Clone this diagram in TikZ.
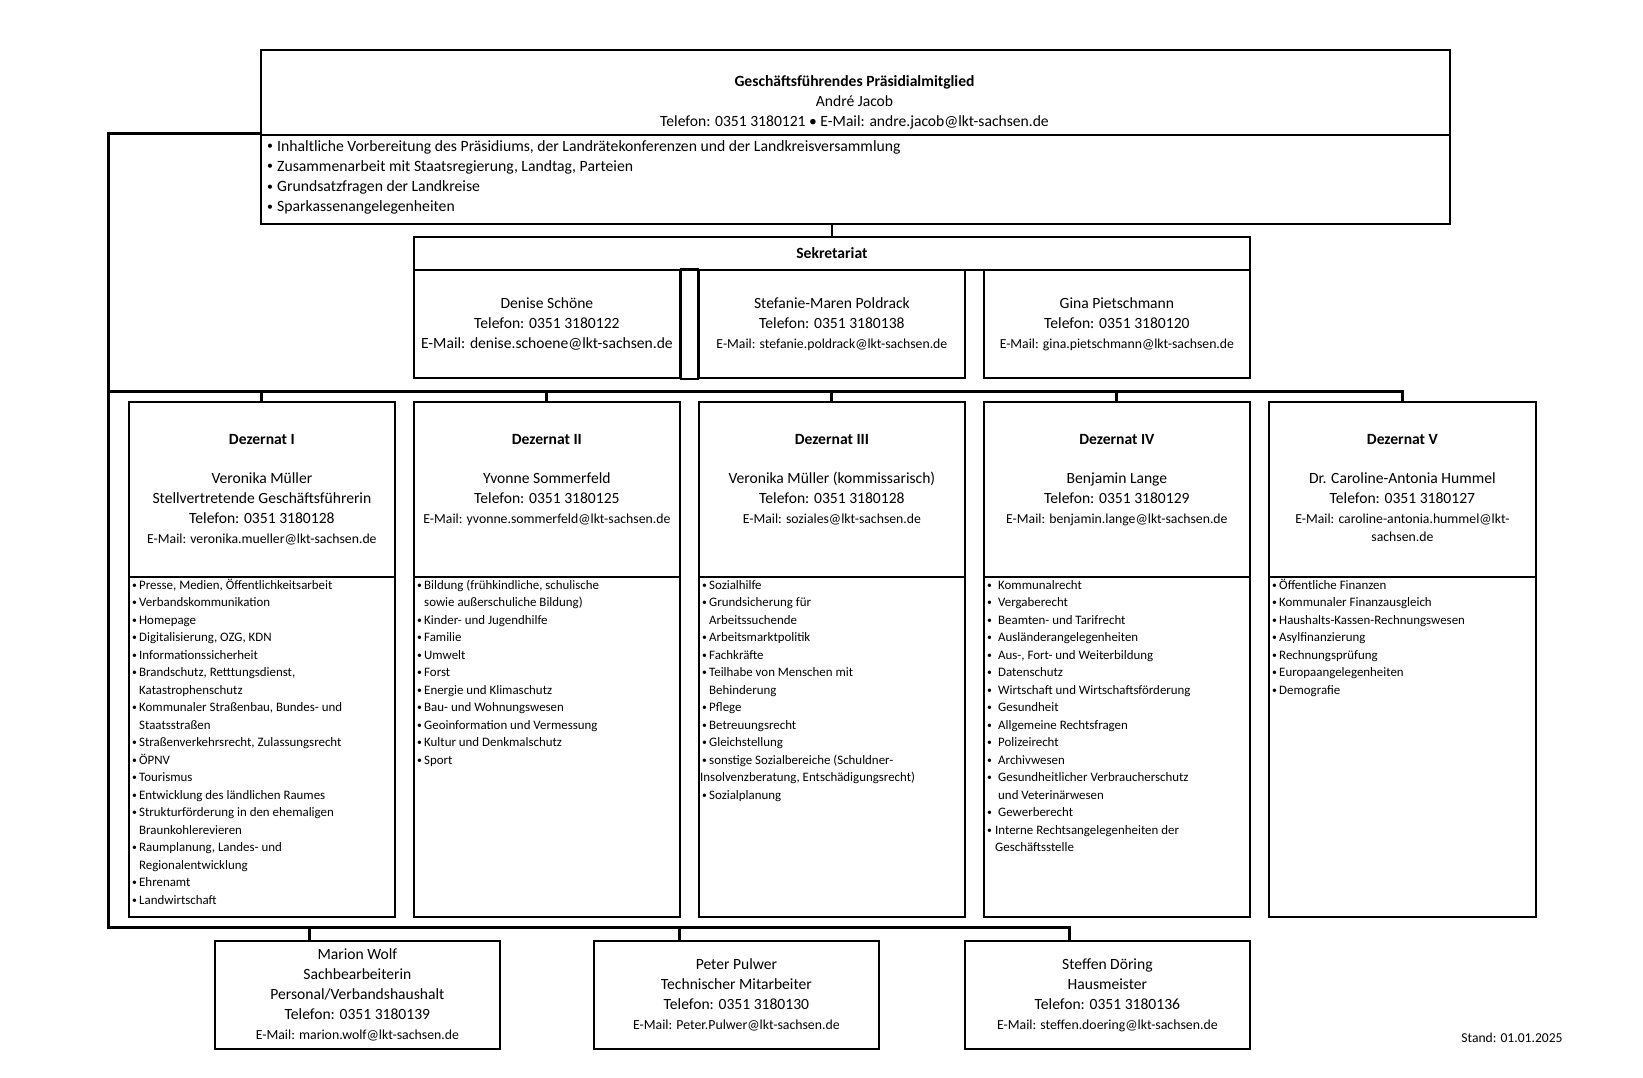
\documentclass[tikz,border=0pt]{standalone}
\usepackage{fontspec}
\usepackage{graphicx}
\setmainfont{Carlito}
\newcommand{\pkt}[1][7pt]{\makebox[#1][l]{\raisebox{0.1em}{\scalebox{0.75}{\textbullet}}}}
\newcommand{\weiter}[1][7pt]{\hspace*{#1}}

\begin{document}
\begin{tikzpicture}[x=1pt,y=-1pt,
    kasten/.style={draw,line width=1.8pt,inner sep=0pt,anchor=north west},
    verb/.style={line width=3pt},
    txt/.style={align=center,font=\fontsize{15.6}{20}\selectfont,inner sep=0pt},
    liste/.style={align=left,anchor=north west,inner sep=0pt,font=\fontsize{12.9}{17.5}\selectfont}]
    \useasboundingbox (0,0) rectangle (1643,1078);
    \node[kasten,line width=2.4pt,minimum width=1189pt,minimum height=85pt] (gfkopf) at (260,49) {};
    \node[kasten,line width=2.4pt,minimum width=1189pt,minimum height=89pt] (gfliste) at (260,134) {};
    \node[txt] (gftext) at (854.5,102.6) {\textbf{Geschäftsführendes Präsidialmitglied}\\André Jacob\\Telefon: 0351 3180121 \textbullet{}\ E-Mail: andre.jacob@lkt-sachsen.de};
    \node[liste,font=\fontsize{15.7}{20.2}\selectfont] (gfpunkte) at (267,137) {\strut\pkt[10pt]Inhaltliche Vorbereitung des Präsidiums, der Landrätekonferenzen und der Landkreisversammlung\\
    \pkt[10pt]Zusammenarbeit mit Staatsregierung, Landtag, Parteien\\
    \pkt[10pt]Grundsatzfragen der Landkreise\\
    \pkt[10pt]Sparkassenangelegenheiten};%
    \node[kasten,minimum width=836pt,minimum height=33pt] (sekkopf) at (413,236) {};
    \node[txt] (sektitel) at (sekkopf.center) {\textbf{Sekretariat}};
    \node[kasten,minimum width=266pt,minimum height=108pt] (sek1) at (413,269) {};
    \node[kasten,minimum width=266pt,minimum height=108pt] (sek2) at (698,269) {};
    \node[kasten,minimum width=266pt,minimum height=108pt] (sek3) at (983,269) {};
    \draw[line width=1.8pt] (sek1.north east) rectangle (sek2.south west);
    \node[txt] (sek1text) at (sek1.center) {Denise Schöne\\Telefon: 0351 3180122\\E-Mail: denise.schoene@lkt-sachsen.de};
    \node[txt] (sek2text) at (sek2.center) {Stefanie-Maren Poldrack\\Telefon: 0351 3180138\\{\fontsize{13.75}{20}\selectfont E-Mail: stefanie.poldrack@lkt-sachsen.de}};
    \node[txt] (sek3text) at (sek3.center) {Gina Pietschmann\\Telefon: 0351 3180120\\{\fontsize{13.75}{20}\selectfont E-Mail: gina.pietschmann@lkt-sachsen.de}};%
    \node[kasten,minimum width=266pt,minimum height=175pt] (dez1kopf) at (128,401) {};
    \node[kasten,minimum width=266pt,minimum height=175pt] (dez2kopf) at (413,401) {};
    \node[kasten,minimum width=266pt,minimum height=175pt] (dez3kopf) at (698,401) {};
    \node[kasten,minimum width=266pt,minimum height=175pt] (dez4kopf) at (983,401) {};
    \node[kasten,minimum width=267pt,minimum height=175pt] (dez5kopf) at (1268,401) {};
    \node[kasten,minimum width=266pt,minimum height=340pt] (dez1liste) at (128,576) {};
    \node[kasten,minimum width=266pt,minimum height=340pt] (dez2liste) at (413,576) {};
    \node[kasten,minimum width=266pt,minimum height=340pt] (dez3liste) at (698,576) {};
    \node[kasten,minimum width=266pt,minimum height=340pt] (dez4liste) at (983,576) {};
    \node[kasten,minimum width=267pt,minimum height=340pt] (dez5liste) at (1268,576) {};%
    \node[txt,anchor=north] (dez1text) at (dez1kopf.north |- 0,430.5) {\strut\textbf{Dezernat I}\\[18.5pt]Veronika Müller\\Stellvertretende Geschäftsführerin\\Telefon: 0351 3180128\\{\fontsize{13.75}{20}\selectfont E-Mail: veronika.mueller@lkt-sachsen.de}};
    \node[txt,anchor=north] (dez2text) at (dez2kopf.north |- 0,430.5) {\strut\textbf{Dezernat II}\\[19pt]Yvonne Sommerfeld\\Telefon: 0351 3180125\\{\fontsize{13.75}{20}\selectfont E-Mail: yvonne.sommerfeld@lkt-sachsen.de}};
    \node[txt,anchor=north] (dez3text) at (dez3kopf.north |- 0,430.5) {\strut\textbf{Dezernat III}\\[19pt]Veronika Müller (kommissarisch)\\Telefon: 0351 3180128\\{\fontsize{13.75}{20}\selectfont E-Mail: soziales@lkt-sachsen.de}};
    \node[txt,anchor=north] (dez4text) at (dez4kopf.north |- 0,430.5) {\strut\textbf{Dezernat IV}\\[19pt]Benjamin Lange\\Telefon: 0351 3180129\\{\fontsize{13.75}{20}\selectfont E-Mail: benjamin.lange@lkt-sachsen.de}};
    \node[txt,anchor=north] (dez5text) at (dez5kopf.north |- 0,430.5) {\strut\textbf{Dezernat V}\\[19pt]Dr. Caroline-Antonia Hummel\\Telefon: 0351 3180127\\{\fontsize{13.75}{20}\selectfont E-Mail: caroline-antonia.hummel@lkt-}\\[-2pt]{\fontsize{13.75}{20}\selectfont sachsen.de}};%
    \node[liste] (dez1punkte) at (132,577) {\strut\pkt Presse, Medien, Öffentlichkeitsarbeit\\
    \pkt Verbandskommunikation\\
    \pkt Homepage\\
    \pkt Digitalisierung, OZG, KDN\\
    \pkt Informationssicherheit\\
    \pkt Brandschutz, Retttungsdienst,\\
    \weiter Katastrophenschutz\\
    \pkt Kommunaler Straßenbau, Bundes- und\\
    \weiter Staatsstraßen\\
    \pkt Straßenverkehrsrecht, Zulassungsrecht\\
    \pkt ÖPNV\\
    \pkt Tourismus\\
    \pkt Entwicklung des ländlichen Raumes\\
    \pkt Strukturförderung in den ehemaligen\\
    \weiter Braunkohlerevieren\\
    \pkt Raumplanung, Landes- und\\
    \weiter Regionalentwicklung\\
    \pkt Ehrenamt\\
    \pkt Landwirtschaft};
    \node[liste] (dez2punkte) at (417,577) {\strut\pkt Bildung (frühkindliche, schulische\\
    \weiter sowie außerschuliche Bildung)\\
    \pkt Kinder- und Jugendhilfe\\
    \pkt Familie\\
    \pkt Umwelt\\
    \pkt Forst\\
    \pkt Energie und Klimaschutz\\
    \pkt Bau- und Wohnungswesen\\
    \pkt Geoinformation und Vermessung\\
    \pkt Kultur und Denkmalschutz\\
    \pkt Sport};
    \node[liste] (dez3punkte) at (702,577) {\strut\pkt Sozialhilfe\\
    \pkt Grundsicherung für\\
    \weiter Arbeitssuchende\\
    \pkt Arbeitsmarktpolitik\\
    \pkt Fachkräfte\\
    \pkt Teilhabe von Menschen mit\\
    \weiter Behinderung\\
    \pkt Pflege\\
    \pkt Betreuungsrecht\\
    \pkt Gleichstellung\\
    \pkt sonstige Sozialbereiche (Schuldner-\\
    \hspace*{-2pt}Insolvenzberatung, Entschädigungsrecht)\\
    \pkt Sozialplanung};
    \node[liste] (dez4punkte) at (987,577) {\strut\pkt[11pt]Kommunalrecht\\
    \pkt[11pt]Vergaberecht\\
    \pkt[11pt]Beamten- und Tarifrecht\\
    \pkt[11pt]Ausländerangelegenheiten\\
    \pkt[11pt]Aus-, Fort- und Weiterbildung\\
    \pkt[11pt]Datenschutz\\
    \pkt[11pt]Wirtschaft und Wirtschaftsförderung\\
    \pkt[11pt]Gesundheit\\
    \pkt[11pt]Allgemeine Rechtsfragen\\
    \pkt[11pt]Polizeirecht\\
    \pkt[11pt]Archivwesen\\
    \pkt[11pt]Gesundheitlicher Verbraucherschutz\\
    \weiter[11pt]und Veterinärwesen\\
    \pkt[11pt]Gewerberecht\\
    \pkt[8pt]Interne Rechtsangelegenheiten der\\
    \weiter[8pt]Geschäftsstelle};
    \node[liste] (dez5punkte) at (1272,577) {\strut\pkt Öffentliche Finanzen\\
    \pkt Kommunaler Finanzausgleich\\
    \pkt Haushalts-Kassen-Rechnungswesen\\
    \pkt Asylfinanzierung\\
    \pkt Rechnungsprüfung\\
    \pkt Europaangelegenheiten\\
    \pkt Demografie};%
    \node[kasten,minimum width=285pt,minimum height=108pt] (ma1) at (214,940) {};
    \node[kasten,minimum width=285pt,minimum height=108pt] (ma2) at (593,940) {};
    \node[kasten,minimum width=285pt,minimum height=108pt] (ma3) at (964,940) {};
    \node[txt] (ma1text) at (ma1.center) {Marion Wolf\\Sachbearbeiterin\\Personal/Verbandshaushalt\\Telefon: 0351 3180139\\{\fontsize{13.8}{20}\selectfont E-Mail: marion.wolf@lkt-sachsen.de}};
    \node[txt] (ma2text) at (ma2.center) {Peter Pulwer\\Technischer Mitarbeiter\\Telefon: 0351 3180130\\{\fontsize{13.8}{20}\selectfont E-Mail: Peter.Pulwer@lkt-sachsen.de}};
    \node[txt] (ma3text) at (ma3.center) {Steffen Döring\\Hausmeister\\Telefon: 0351 3180136\\{\fontsize{13.8}{20}\selectfont E-Mail: steffen.doering@lkt-sachsen.de}};
    \node[font=\fontsize{13.6}{16}\selectfont,inner sep=0pt] (stand) at (1512,1038) {Stand: 01.01.2025};%
    \coordinate (ecke) at (108,134);
    \coordinate (bus) at (108,391);
    \coordinate (unten) at (108,927);
    \coordinate (ma1an) at (309,940);
    \coordinate (ma2an) at (679,940);
    \coordinate (ma3an) at (1069,940);%
    \draw[line width=1.5pt] (sekkopf.north |- gfliste.south) -- (sekkopf.north);
    \draw[verb] (gfliste.north west) -- (ecke) -- (unten) -- (ma3an |- unten) -- (ma3an);
    \draw[verb] (ma1an |- unten) -- (ma1an);
    \draw[verb] (ma2an |- unten) -- (ma2an);
    \draw[verb] (bus) -- (dez5kopf.north |- bus) -- (dez5kopf.north);
    \draw[verb] (dez1kopf.north |- bus) -- (dez1kopf.north);
    \draw[verb] (dez2kopf.north |- bus) -- (dez2kopf.north);
    \draw[verb] (dez3kopf.north |- bus) -- (dez3kopf.north);
    \draw[verb] (dez4kopf.north |- bus) -- (dez4kopf.north);
\end{tikzpicture}
\end{document}
